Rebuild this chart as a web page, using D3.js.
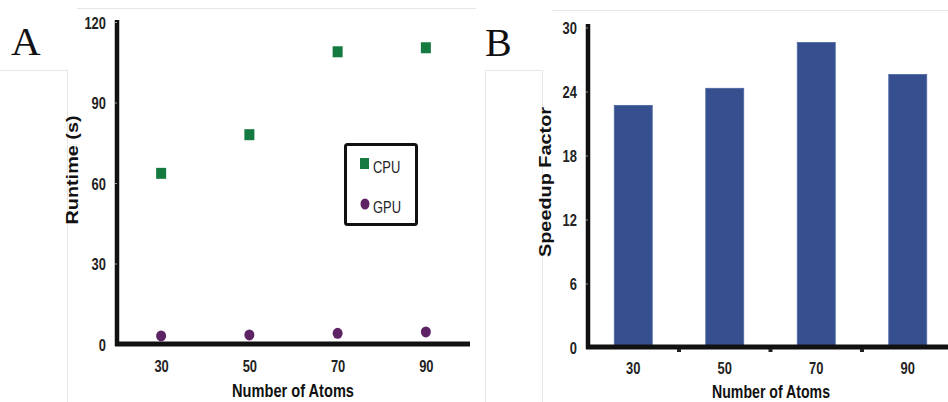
<!DOCTYPE html>
<html>
<head>
<meta charset="utf-8">
<script src="https://cdn.jsdelivr.net/npm/d3@7"></script>
<style>
  html, body { margin: 0; padding: 0; background: #ffffff; }
  svg { display: block; }
</style>
</head>
<body>
<svg id="chart" width="948" height="402"></svg>
<script>
// ---- data ----
const atoms = [30, 50, 70, 90];
const cpuRuntime = [63.6, 78.0, 108.9, 110.4];
const gpuRuntime = [3.0, 3.4, 4.0, 4.5];
const speedup = [22.7, 24.3, 28.6, 25.6];
const runtimeTicks = [0, 30, 60, 90, 120];
const speedupTicks = [0, 6, 12, 18, 24, 30];
const seriesNames = ["CPU", "GPU"];

const svg = d3.select("#chart");
const sans = '"Liberation Sans", Arial, Helvetica, sans-serif';

// condense text horizontally (narrow-font look)
function condense(sel, factor) {
  sel.each(function () {
    const w = this.getComputedTextLength();
    d3.select(this).attr("textLength", w * factor).attr("lengthAdjust", "spacingAndGlyphs");
  });
}

// faint scan/frame lines
const faint = svg.append("g").attr("stroke", "#e6e6e6").attr("stroke-width", 1).attr("fill", "none");
faint.append("path").attr("d", "M77,8.5H476");
faint.append("path").attr("d", "M0,70.5H67.5V402");
faint.append("path").attr("d", "M552,10.5H948");
faint.append("path").attr("d", "M485.5,402V70.5H542.5V402");

// panel letters
svg.append("text").attr("x", 11).attr("y", 55).attr("font-family", '"Liberation Serif", "Times New Roman", serif')
  .attr("font-size", 41).attr("fill", "#111").text("A");
svg.append("text").attr("x", 485).attr("y", 56).attr("font-family", '"Liberation Serif", "Times New Roman", serif')
  .attr("font-size", 40).attr("fill", "#111").text("B");

function styleTicks(sel) {
  sel.attr("font-family", sans).attr("font-size", 17).attr("font-weight", "bold").attr("fill", "#222").attr("dy", "0.36em");
  condense(sel, 0.76);
}

// ================= Panel A =================
const xA = d3.scaleLinear().domain([20, 100]).range([117, 470]);
const yA = d3.scaleLinear().domain([0, 120]).range([344, 22]);

const gyA = svg.append("g").attr("transform", "translate(117,0)")
  .call(d3.axisLeft(yA).tickValues(runtimeTicks).tickSize(2).tickSizeOuter(0).tickPadding(9));
gyA.select(".domain").attr("stroke", "#111").attr("stroke-width", 4.5).attr("d", "M0,20V346");
gyA.selectAll(".tick line").attr("stroke", "#999");
styleTicks(gyA.selectAll(".tick text"));

const gxA = svg.append("g").attr("transform", "translate(0,344)")
  .call(d3.axisBottom(xA).tickValues(atoms).tickSize(0).tickSizeOuter(0));
gxA.select(".domain").attr("stroke", "#111").attr("stroke-width", 5).attr("d", "M115,0H470");
styleTicks(gxA.selectAll(".tick text").attr("y", 22));

svg.append("text").attr("x", 293).attr("y", 390).attr("dy", "0.36em").attr("text-anchor", "middle")
  .attr("font-family", sans).attr("font-size", 19).attr("font-weight", "bold").attr("fill", "#111")
  .attr("textLength", 122).attr("lengthAdjust", "spacingAndGlyphs")
  .text("Number of Atoms");
svg.append("text").attr("transform", "translate(72,170) rotate(-90)").attr("dy", "0.36em").attr("text-anchor", "middle")
  .attr("font-family", sans).attr("font-size", 16).attr("font-weight", "bold").attr("fill", "#111")
  .attr("textLength", 109).attr("lengthAdjust", "spacingAndGlyphs")
  .text("Runtime (s)");

const cpuColor = "#157a40", gpuColor = "#5e2365";
svg.append("g").selectAll("rect").data(atoms).join("rect")
  .attr("x", d => xA(d) - 5).attr("y", (d, i) => yA(cpuRuntime[i]) - 5.5)
  .attr("width", 10).attr("height", 11).attr("fill", cpuColor);
svg.append("g").selectAll("ellipse").data(atoms).join("ellipse")
  .attr("cx", d => xA(d)).attr("cy", (d, i) => yA(gpuRuntime[i]))
  .attr("rx", 5).attr("ry", 5.5).attr("fill", gpuColor);

// legend
const leg = svg.append("g");
leg.append("rect").attr("x", 345.5).attr("y", 144.5).attr("width", 71).attr("height", 80).attr("rx", 2)
  .attr("fill", "#fff").attr("stroke", "#111").attr("stroke-width", 3);
leg.append("rect").attr("x", 360).attr("y", 158).attr("width", 9).attr("height", 11).attr("fill", cpuColor);
leg.append("ellipse").attr("cx", 365).attr("cy", 204).attr("rx", 4.5).attr("ry", 5.5).attr("fill", gpuColor);
const legText = leg.selectAll("text").data(seriesNames).join("text")
  .attr("x", 373).attr("y", (d, i) => i === 0 ? 167 : 207).attr("dy", "0.36em")
  .attr("font-family", sans).attr("font-size", 17).attr("fill", "#222").text(d => d);
condense(legText, 0.76);

// ================= Panel B =================
const xB = d3.scaleBand().domain(atoms).range([587.5, 953.5]).paddingInner(0.585).paddingOuter(0.2925);
const yB = d3.scaleLinear().domain([0, 30]).range([347.5, 27.5]);

svg.append("g").selectAll("rect").data(atoms).join("rect")
  .attr("x", d => xB(d)).attr("y", (d, i) => yB(speedup[i]))
  .attr("width", xB.bandwidth()).attr("height", (d, i) => yB(0) - yB(speedup[i]))
  .attr("fill", "#36508f").attr("stroke", "#4c66a3").attr("stroke-width", 0.8);

const gyB = svg.append("g").attr("transform", "translate(588,0)")
  .call(d3.axisLeft(yB).tickValues(speedupTicks).tickSize(2).tickSizeOuter(0).tickPadding(9));
gyB.select(".domain").attr("stroke", "#111").attr("stroke-width", 4.5).attr("d", "M0,24V349");
gyB.selectAll(".tick line").attr("stroke", "#888");
styleTicks(gyB.selectAll(".tick text"));

const gxB = svg.append("g").attr("transform", "translate(0,347)")
  .call(d3.axisBottom(xB).tickSize(0).tickSizeOuter(0));
gxB.select(".domain").attr("stroke", "#111").attr("stroke-width", 5).attr("d", "M586,0H948");
styleTicks(gxB.selectAll(".tick text").attr("y", 21));
// small stubs at band boundaries
gxB.selectAll(".stub").data(atoms.slice(1)).join("rect").attr("class", "stub")
  .attr("x", d => xB(d) - xB.step() * xB.paddingInner() / 2 - 2).attr("y", 2).attr("width", 4).attr("height", 3).attr("fill", "#222");

svg.append("text").attr("x", 771).attr("y", 391).attr("dy", "0.36em").attr("text-anchor", "middle")
  .attr("font-family", sans).attr("font-size", 19).attr("font-weight", "bold").attr("fill", "#111")
  .attr("textLength", 118).attr("lengthAdjust", "spacingAndGlyphs")
  .text("Number of Atoms");
svg.append("text").attr("transform", "translate(545,182) rotate(-90)").attr("dy", "0.36em").attr("text-anchor", "middle")
  .attr("font-family", sans).attr("font-size", 17).attr("font-weight", "bold").attr("fill", "#111")
  .attr("textLength", 150).attr("lengthAdjust", "spacingAndGlyphs")
  .text("Speedup Factor");
</script>
</body>
</html>
